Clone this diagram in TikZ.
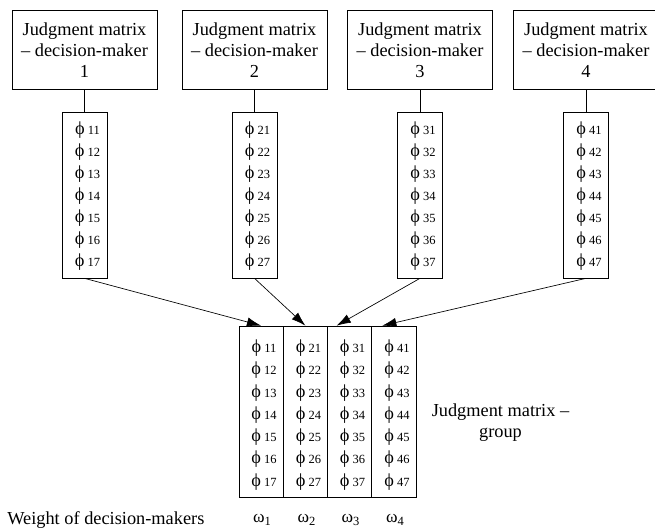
\documentclass[tikz,border=0pt]{standalone}
\usepackage{fontspec}
\setmainfont{Liberation Serif}
\usetikzlibrary{positioning,arrows.meta}

\newcommand{\phient}[2]{{\fontsize{11}{12}\selectfont ϕ}\,{\fontsize{7.5}{9}\selectfont #1#2}}
\newcommand{\wgt}[1]{{\fontsize{10.5}{12}\selectfont ω}{\fontsize{7.5}{9}\selectfont\raisebox{-1.5pt}{#1}}}

\begin{document}
\begin{tikzpicture}[x=0.6pt,y=-0.6pt,>={Latex[length=8.5pt,width=5.5pt]},font=\fontsize{11}{12.6}\selectfont]
	\tikzset{
		dmbox/.style={draw,minimum width=87pt,minimum height=47.4pt,align=center,inner sep=1pt},
		colbox/.style={draw,minimum width=27pt,minimum height=99.6pt,inner sep=0pt},
		grpbox/.style={draw,minimum width=26.55pt,minimum height=102.6pt,inner sep=0pt},
		phirow/.style={inner sep=0pt}
	}
	\useasboundingbox (0,0) rectangle (655,531);

	% decision-makers and their columns
	\foreach \i/\x in {1/84.5,2/254.5,3/420,4/586}{
		\node[dmbox] (dm\i) at (\x,50) {Judgment matrix\\– decision-maker\\\i};
		\node[colbox] (col\i) at (\x,195) {};
		\draw (dm\i) -- (col\i);
		\foreach \j in {1,...,7}
			\node[phirow] (c\i-\j) at (\x+3,108+22*\j) {\phient{\i}{\j}};
	}

	% group matrix
	\foreach \i/\x in {1/261.1,2/305.4,3/349.6,4/393.9}{
		\node[grpbox] (g\i) at (\x,411.5) {};
		\foreach \j in {1,...,7}
			\node[phirow] (g\i-\j) at (\x+3,325.7+22.3*\j) {\phient{\i}{\j}};
		\node (w\i) at (\x+1,520) {\wgt{\i}};
	}

	\draw[->] (col1.south) -- (g1.north);
	\draw[->] (col2.south) -- (g2.north);
	\draw[->] (col3.south) -- ([xshift=-7.8pt]g3.north);
	\draw[->] (col4.south) -- ([xshift=-7pt]g4.north);

	\node[align=center] (grp) at (500.5,422.5) {Judgment matrix –\\group};
	\node[anchor=west,inner sep=0pt] (wlab) at (7,520) {Weight of decision-makers};
\end{tikzpicture}
\end{document}
